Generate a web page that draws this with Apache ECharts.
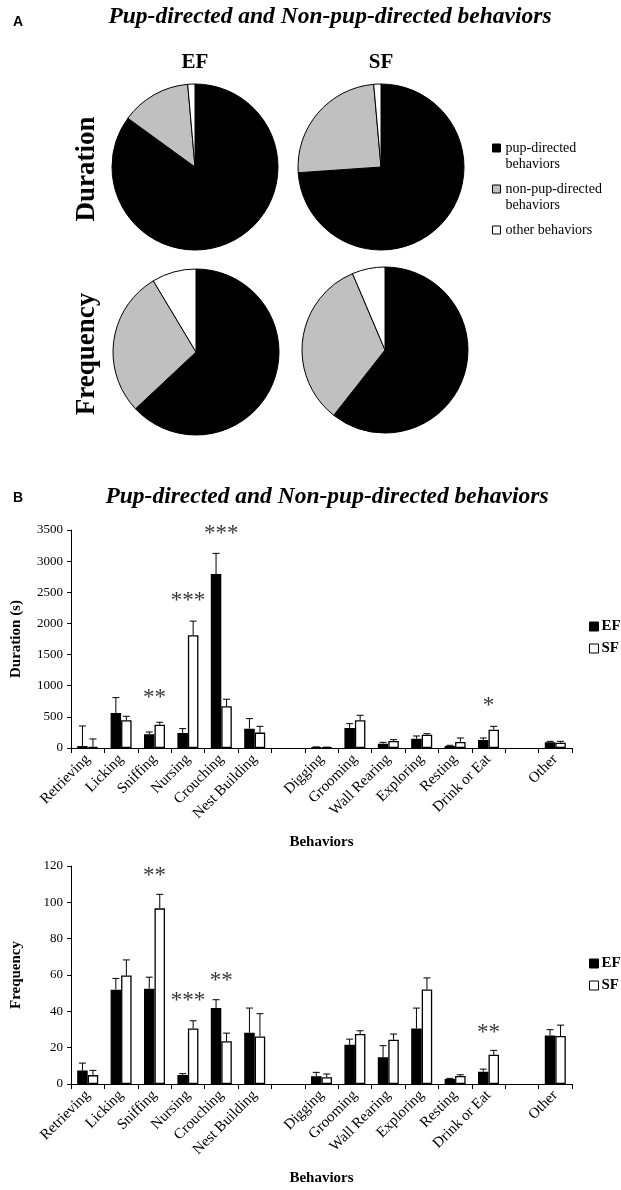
<!DOCTYPE html>
<html>
<head>
	<meta charset="utf-8">
	<title>Pup-directed and Non-pup-directed behaviors</title>
	<script src="https://cdn.jsdelivr.net/npm/echarts@6/dist/echarts.min.js"></script>
	<style>
		html, body { margin: 0; padding: 0; background: #fff; }
		#chart { width: 621px; height: 1190px; }
	</style>
</head>
<body>
	<div id="chart"></div>
	<script>
		// pie shares (%), order: pup-directed, non-pup-directed, other
		var pieNames = ['pup-directed behaviors', 'non-pup-directed behaviors', 'other behaviors'];
		var pieColors = ['#000000', '#c0c0c0', '#ffffff'];
		var durationEF = [85.0, 13.6, 1.4];
		var durationSF = [73.9, 24.7, 1.4];
		var frequencyEF = [63.0, 28.4, 8.6];
		var frequencySF = [60.6, 33.0, 6.4];

		// bar charts
		var categories = ['Retrieving', 'Licking', 'Sniffing', 'Nursing', 'Crouching', 'Nest Building', '',
			'Digging', 'Grooming', 'Wall Rearing', 'Exploring', 'Resting', 'Drink or Eat', ' ', 'Other'];
		var durEF = [30, 563, 220, 241, 2793, 311, null, 12, 322, 70, 150, 32, 129, null, 91];
		var durEFsem = [324, 246, 37, 70, 332, 161, null, 6, 69, 21, 43, 11, 32, null, 16];
		var durSF = [20, 445, 375, 1812, 670, 247, null, 10, 445, 113, 214, 96, 295, null, 86];
		var durSFsem = [125, 64, 38, 225, 113, 101, null, 4, 80, 21, 16, 65, 53, null, 21];
		var freqEF = [7.5, 51.9, 52.4, 4.9, 41.8, 28.2, null, 4.2, 21.6, 14.7, 30.6, 2.7, 6.8, null, 26.7];
		var freqEFsem = [4.0, 6.2, 6.4, 0.8, 4.6, 13.6, null, 2.2, 3.1, 6.4, 11.2, 0.4, 1.4, null, 3.2];
		var freqSF = [4.9, 59.7, 96.7, 30.6, 23.6, 26.2, null, 3.7, 27.5, 24.4, 52.0, 4.4, 16.1, null, 26.4];
		var freqSFsem = [2.6, 8.6, 7.7, 4.2, 4.4, 12.5, null, 1.8, 1.8, 3.1, 6.4, 0.7, 2.4, null, 6.0];

		// significance marks
		var durStarCats = ['Sniffing', 'Nursing', 'Crouching', 'Drink or Eat'];
		var durStarText = ['**', '***', '***', '*'];
		var durStarY = [851, 2409, 3485, 723];
		var freqStarCats = ['Sniffing', 'Nursing', 'Crouching', 'Drink or Eat'];
		var freqStarText = ['**', '***', '**', '**'];
		var freqStarY = [116, 47.3, 58.3, 29.7];

		var serif = 'Liberation Serif';
		var barW = 10.5;

		var chart = echarts.init(document.getElementById('chart'), null, { renderer: 'canvas' });

		function pieSeries(values, center) {
			return {
				type: 'pie',
				center: center,
				radius: 83,
				startAngle: 90,
				clockwise: true,
				silent: true,
				label: { show: false },
				labelLine: { show: false },
				itemStyle: { borderColor: '#000', borderWidth: 1 },
				emphasis: { disabled: true },
				data: values.map(function (v, i) {
					return { name: pieNames[i], value: v, itemStyle: { color: pieColors[i] } };
				})
			};
		}

		function errSeries(means, sems, gridIdx, offset) {
			var data = [];
			for (var i = 0; i < means.length; i++) {
				if (means[i] == null) continue;
				data.push([i, means[i], means[i] + sems[i]]);
			}
			return {
				type: 'custom',
				xAxisIndex: gridIdx,
				yAxisIndex: gridIdx,
				silent: true,
				z: 5,
				data: data,
				renderItem: function (params, api) {
					var p0 = api.coord([api.value(0), api.value(1)]);
					var p1 = api.coord([api.value(0), api.value(2)]);
					var x = p0[0] + offset;
					var st = { stroke: '#000', lineWidth: 1 };
					return {
						type: 'group',
						children: [
							{ type: 'line', shape: { x1: x, y1: p0[1], x2: x, y2: p1[1] }, style: st },
							{ type: 'line', shape: { x1: x - 3.5, y1: p1[1], x2: x + 3.5, y2: p1[1] }, style: st }
						]
					};
				}
			};
		}

		function starSeries(cats, ys, texts, gridIdx) {
			return {
				type: 'scatter',
				xAxisIndex: gridIdx,
				yAxisIndex: gridIdx,
				silent: true,
				symbolSize: 1,
				itemStyle: { color: 'transparent' },
				label: {
					show: true,
					position: 'inside',
					formatter: '{b}',
					fontFamily: serif,
					fontSize: 23,
					color: '#000',
					offset: [0, 3]
				},
				data: cats.map(function (c, i) {
					return { name: texts[i], value: [c, ys[i]] };
				})
			};
		}

		function barSeries(name, values, gridIdx, fill) {
			return {
				name: name,
				type: 'bar',
				xAxisIndex: gridIdx,
				yAxisIndex: gridIdx,
				barWidth: barW,
				barGap: '0%',
				silent: true,
				itemStyle: { color: fill, borderColor: '#000', borderWidth: 1.3 },
				data: values
			};
		}

		function xAxisFor(gridIdx) {
			return {
				type: 'category',
				gridIndex: gridIdx,
				data: categories,
				name: 'Behaviors',
				nameLocation: 'middle',
				nameGap: 87,
				nameTextStyle: { fontFamily: serif, fontWeight: 'bold', fontSize: 15, color: '#000' },
				axisLine: { lineStyle: { color: '#000', width: 1 } },
				axisTick: { show: true, length: 5, lineStyle: { color: '#000' }, interval: 0 },
				axisLabel: { interval: 0, rotate: 45, fontFamily: serif, fontSize: 15, color: '#000', margin: 9 },
				splitLine: { show: false }
			};
		}

		function yAxisFor(gridIdx, max, interval, name) {
			return {
				type: 'value',
				gridIndex: gridIdx,
				min: 0,
				max: max,
				interval: interval,
				name: name,
				nameLocation: 'middle',
				nameGap: 47,
				nameRotate: 90,
				nameTextStyle: { fontFamily: serif, fontWeight: 'bold', fontSize: 15, color: '#000' },
				axisLine: { show: true, lineStyle: { color: '#000', width: 1 } },
				axisTick: { show: true, length: 4, lineStyle: { color: '#000' } },
				axisLabel: {
					fontFamily: serif, fontSize: 13, color: '#000', margin: 8,
					formatter: function (v) { return String(v); }
				},
				splitLine: { show: false }
			};
		}

		// two-line legend names get a blank first line so the icon sits beside the first text line
		function pieLegend(name, top, twoLine) {
			return {
				orient: 'vertical',
				left: 487,
				top: top,
				padding: 5,
				icon: 'rect',
				itemWidth: 8,
				itemHeight: 8,
				selectedMode: false,
				data: [name],
				itemStyle: { borderColor: '#000', borderWidth: 1 },
				textStyle: { fontFamily: serif, fontSize: 14, lineHeight: 16, color: '#000' },
				formatter: twoLine ? function (n) { return '\n' + n.replace(' behaviors', '\nbehaviors'); } : '{name}'
			};
		}

		function barLegend(top) {
			return {
				orient: 'vertical',
				left: 584,
				top: top,
				icon: 'rect',
				itemWidth: 9,
				itemHeight: 9,
				itemGap: 7,
				selectedMode: false,
				data: ['EF', 'SF'],
				itemStyle: { borderColor: '#000', borderWidth: 1 },
				textStyle: { fontFamily: serif, fontSize: 15, fontWeight: 'bold', color: '#000', padding: [0, 0, 0, -2] }
			};
		}

		var titleStyle = { fontFamily: serif, fontSize: 23.5, fontWeight: 'bold', fontStyle: 'italic', fill: '#000', textAlign: 'center', textVerticalAlign: 'middle' };

		var option = {
			backgroundColor: '#fff',
			animation: false,
			graphic: [
				{ type: 'text', x: 18, y: 22, style: { text: 'A', font: 'bold 14px "Liberation Sans"', fill: '#000', textAlign: 'center', textVerticalAlign: 'middle' } },
				{ type: 'text', x: 330, y: 17, style: Object.assign({ text: 'Pup-directed and Non-pup-directed behaviors' }, titleStyle) },
				{ type: 'text', x: 195, y: 63, style: { text: 'EF', fontFamily: serif, fontSize: 21, fontWeight: 'bold', fill: '#000', textAlign: 'center', textVerticalAlign: 'middle' } },
				{ type: 'text', x: 381, y: 63, style: { text: 'SF', fontFamily: serif, fontSize: 21, fontWeight: 'bold', fill: '#000', textAlign: 'center', textVerticalAlign: 'middle' } },
				{ type: 'text', x: 87, y: 169, rotation: Math.PI / 2, style: { text: 'Duration', fontFamily: serif, fontSize: 27, fontWeight: 'bold', fill: '#000', textAlign: 'center', textVerticalAlign: 'middle' } },
				{ type: 'text', x: 87, y: 354, rotation: Math.PI / 2, style: { text: 'Frequency', fontFamily: serif, fontSize: 27, fontWeight: 'bold', fill: '#000', textAlign: 'center', textVerticalAlign: 'middle' } },
				{ type: 'text', x: 18, y: 498, style: { text: 'B', font: 'bold 14px "Liberation Sans"', fill: '#000', textAlign: 'center', textVerticalAlign: 'middle' } },
				{ type: 'text', x: 327, y: 497, style: Object.assign({ text: 'Pup-directed and Non-pup-directed behaviors' }, titleStyle) }
			],
			legend: [
				pieLegend(pieNames[0], 119, true),
				pieLegend(pieNames[1], 160, true),
				pieLegend(pieNames[2], 217, false),
				barLegend(614),
				barLegend(951)
			],
			grid: [
				{ left: 71, right: 49, top: 530, height: 218 },
				{ left: 71, right: 49, top: 866, height: 218 }
			],
			xAxis: [xAxisFor(0), xAxisFor(1)],
			yAxis: [yAxisFor(0, 3500, 500, 'Duration (s)'), yAxisFor(1, 120, 20, 'Frequency')],
			series: [
				pieSeries(durationEF, [195, 167]),
				pieSeries(durationSF, [381, 167]),
				pieSeries(frequencyEF, [196, 352]),
				pieSeries(frequencySF, [385, 350]),
				barSeries('EF', durEF, 0, '#000'),
				barSeries('SF', durSF, 0, '#fff'),
				barSeries('EF', freqEF, 1, '#000'),
				barSeries('SF', freqSF, 1, '#fff'),
				errSeries(durEF, durEFsem, 0, -barW / 2),
				errSeries(durSF, durSFsem, 0, barW / 2),
				errSeries(freqEF, freqEFsem, 1, -barW / 2),
				errSeries(freqSF, freqSFsem, 1, barW / 2),
				starSeries(durStarCats, durStarY, durStarText, 0),
				starSeries(freqStarCats, freqStarY, freqStarText, 1)
			]
		};

		chart.setOption(option);
	</script>
</body>
</html>
